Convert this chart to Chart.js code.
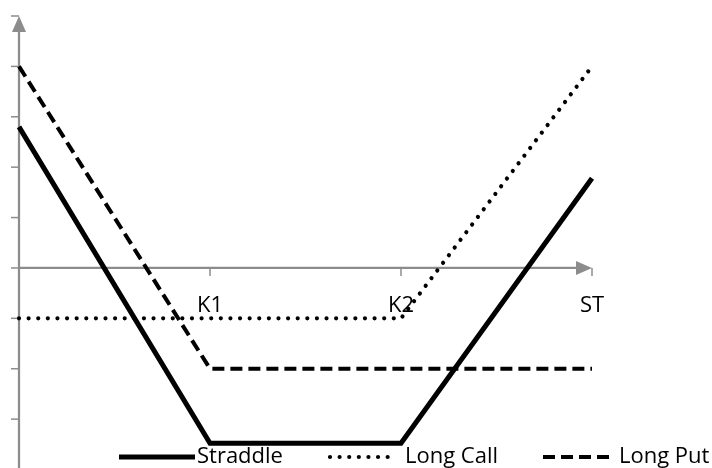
<!DOCTYPE html>
<html><head><meta charset="utf-8">
<script src="https://cdn.jsdelivr.net/npm/chart.js@4/dist/chart.umd.min.js"></script>
<style>html,body{margin:0;padding:0;background:#fff}#wrap{width:712px;height:468px}</style>
</head><body><div id="wrap"><canvas id="c" width="712" height="468"></canvas></div>
<script>
const xPositions = [0, 1, 2, 3];
const straddle = [2.8, -3.48, -3.48, 1.78];
const longCall = [-1, -1, -1, 4.0];
const longPut = [4, -2, -2, -2];
const xTickValues = [1, 2, 3];
const xTickLabels = ['K1', 'K2', 'ST'];
const yTickValues = [-4, -3, -2, -1, 0, 1, 2, 3, 4, 5];
const seriesNames = ['Straddle', 'Long Call', 'Long Put'];

const toPts = arr => arr.map((v, i) => ({ x: xPositions[i], y: v }));
const AXIS = '#8c8c8c';
const FONT = '22px "Open Sans"';

const axesPlugin = {
  id: 'axes',
  beforeDatasetsDraw(chart) {
    const ctx = chart.ctx, xs = chart.scales.x, ys = chart.scales.y;
    const x0 = xs.getPixelForValue(0), y0 = ys.getPixelForValue(0);
    const yTop = ys.getPixelForValue(5), xEnd = xs.getPixelForValue(3);
    ctx.save();
    ctx.strokeStyle = AXIS; ctx.fillStyle = AXIS; ctx.lineWidth = 2.25;
    ctx.beginPath(); ctx.moveTo(x0, yTop + 10); ctx.lineTo(x0, chart.height + 2); ctx.stroke();
    ctx.beginPath(); ctx.moveTo(x0, yTop); ctx.lineTo(x0 - 7, yTop + 16); ctx.lineTo(x0 + 7, yTop + 16); ctx.closePath(); ctx.fill();
    ctx.lineWidth = 1.5;
    yTickValues.forEach(v => {
      const py = ys.getPixelForValue(v);
      ctx.beginPath(); ctx.moveTo(x0 - 8, py); ctx.lineTo(x0, py); ctx.stroke();
    });
    ctx.lineWidth = 2.25;
    ctx.beginPath(); ctx.moveTo(x0, y0); ctx.lineTo(xEnd - 10, y0); ctx.stroke();
    ctx.beginPath(); ctx.moveTo(xEnd, y0); ctx.lineTo(xEnd - 16, y0 - 7); ctx.lineTo(xEnd - 16, y0 + 7); ctx.closePath(); ctx.fill();
    ctx.lineWidth = 1.5;
    xTickValues.forEach(v => {
      const px = xs.getPixelForValue(v);
      ctx.beginPath(); ctx.moveTo(px, y0); ctx.lineTo(px, y0 + 8); ctx.stroke();
    });
    ctx.fillStyle = '#000'; ctx.font = FONT; ctx.textAlign = 'center'; ctx.textBaseline = 'middle';
    xTickValues.forEach((v, i) => {
      ctx.fillText(xTickLabels[i], xs.getPixelForValue(v), y0 + 38);
    });
    ctx.restore();
  }
};

const legendLayout = [
  { sx: 119, len: 76, tx: 197 },
  { sx: 330, len: 62, tx: 405 },
  { sx: 543, len: 68, tx: 619 }
];
const legendPlugin = {
  id: 'customLegend',
  afterDraw(chart) {
    const ctx = chart.ctx;
    const ly = 457;
    ctx.save();
    chart.data.datasets.forEach((ds, i) => {
      const L = legendLayout[i];
      ctx.save();
      ctx.strokeStyle = ds.borderColor; ctx.lineWidth = ds.borderWidth;
      ctx.lineCap = ds.borderCapStyle || 'butt';
      ctx.setLineDash(ds.borderDash || []);
      ctx.beginPath(); ctx.moveTo(L.sx, ly); ctx.lineTo(L.sx + L.len, ly); ctx.stroke();
      ctx.restore();
      ctx.fillStyle = '#000'; ctx.font = FONT; ctx.textAlign = 'left'; ctx.textBaseline = 'middle';
      ctx.fillText(ds.label, L.tx, ly);
    });
    ctx.restore();
  }
};

new Chart(document.getElementById('c'), {
  type: 'line',
  data: {
    datasets: [
      { label: seriesNames[0], data: toPts(straddle), borderColor: '#000', borderWidth: 5, borderJoinStyle: 'miter', pointRadius: 0, fill: false, tension: 0 },
      { label: seriesNames[1], data: toPts(longCall), borderColor: '#000', borderWidth: 4.2, borderCapStyle: 'round', borderDash: [0.01, 9.6], pointRadius: 0, fill: false, tension: 0 },
      { label: seriesNames[2], data: toPts(longPut), borderColor: '#000', borderWidth: 4, borderCapStyle: 'butt', borderDash: [12, 6], pointRadius: 0, fill: false, tension: 0 }
    ]
  },
  options: {
    responsive: false, animation: false, devicePixelRatio: 1,
    layout: { padding: { left: 19, right: 120, top: 16, bottom: 0 } },
    clip: false,
    scales: {
      x: { type: 'linear', min: 0, max: 3, display: false },
      y: { type: 'linear', min: -3.97, max: 5, display: false }
    },
    plugins: { legend: { display: false }, tooltip: { enabled: false } }
  },
  plugins: [axesPlugin, legendPlugin]
});
</script></body></html>
